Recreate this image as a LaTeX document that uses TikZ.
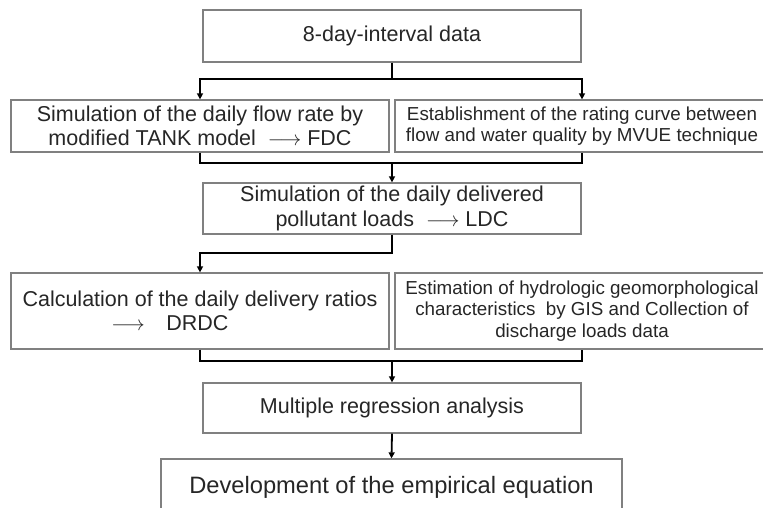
\documentclass[tikz,border=0pt]{standalone}
\usepackage{fontspec}
\setmainfont{Liberation Sans}
\usetikzlibrary{arrows.meta,positioning,calc}
\definecolor{boxgray}{HTML}{808080}
\definecolor{txtgray}{HTML}{262626}

\begin{document}
\begin{tikzpicture}[x=1pt,y=-1pt,>={Triangle[length=6pt,width=6pt]},
 box/.style={draw=boxgray,line width=1.3pt,minimum width=378pt,minimum height=52pt,
  inner sep=2pt,align=center,text=txtgray,font=\fontsize{21.5}{24.5}\selectfont},
 small/.style={font=\fontsize{18.8}{21.5}\selectfont},
 link/.style={line width=1.8pt}]
 \useasboundingbox (0,0) rectangle (763,508);
 \clip (0,0) rectangle (763,508);
 % boxes
 \node[box] (data) at (392,36) {8-day-interval data};
 \node[box] (flow) at (200,126) {Simulation of the daily flow rate by\\
  modified TANK model~~$\longrightarrow$~FDC};
 \node[box,small,minimum width=374pt] (rating) at (582,126) {Establishment of the rating curve between\\
  flow and water quality by MVUE technique};
 \node[box,minimum height=51pt] (load) at (392,208.5) {Simulation of the daily delivered\\
  pollutant loads~~$\longrightarrow$~LDC};
 \node[box,minimum height=76pt] (ratio) at (200,311) {Calculation of the daily delivery ratios\\
  $\longrightarrow$\quad DRDC\hspace*{60pt}};
 \node[box,small,minimum width=374pt,minimum height=76pt] (geo) at (582,311) {Estimation of hydrologic geomorphological\\
  characteristics~ by GIS and Collection of\\discharge loads data};
 \node[box,minimum height=50pt] (regress) at (392,408) {Multiple regression analysis};
 \node[box,minimum width=461pt,minimum height=56pt,font=\fontsize{23.7}{26}\selectfont] (equation) at (391.5,487)
  {Development of the empirical equation};
 % connectors
 \coordinate (split) at (392,79);
 \coordinate (join1) at (392,163);
 \coordinate (bend) at (392,253);
 \coordinate (join2) at (392,361);
 \draw[link] (data.south) -- (split);
 \draw[link,->] (split) -| (flow.north);
 \draw[link,->] (split) -| (rating.north);
 \draw[link] (flow.south) |- (join1) -| (rating.south);
 \draw[link,->] (join1) -- (load.north);
 \draw[link,->] (load.south) -- (bend) -| (ratio.north);
 \draw[link] (ratio.south) |- (join2) -| (geo.south);
 \draw[link,->] (join2) -- (regress.north);
 \draw[link,->] (regress.south) -- (equation.north);
\end{tikzpicture}
\end{document}
